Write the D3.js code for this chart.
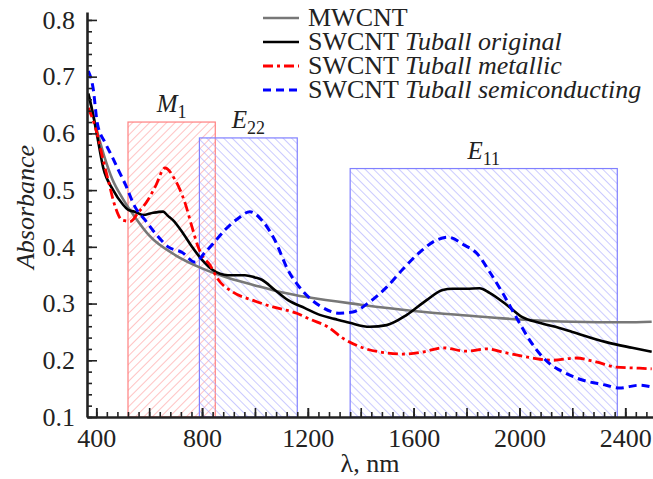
<!DOCTYPE html>
<html>
<head>
<meta charset="utf-8">
<script src="https://cdn.jsdelivr.net/npm/d3@7"></script>
<style>
  body { margin: 0; background: #fff; }
  svg text { font-family: "Liberation Serif", "Times New Roman", Tinos, "DejaVu Serif", serif; fill: #222; }
</style>
</head>
<body>
<div id="chart"></div>
<script>
// data
var mwLam = [370, 400, 430, 460, 500, 550, 600, 700, 800, 900, 1000, 1100, 1200, 1400, 1600, 1800, 2000, 2200, 2400, 2500];
var mwVal = [0.67, 0.61, 0.56, 0.52, 0.485, 0.45, 0.42, 0.385, 0.362, 0.345, 0.332, 0.32, 0.311, 0.298, 0.287, 0.279, 0.272, 0.268, 0.267, 0.268];

var origLam = [370, 385, 404, 426, 464, 500, 521, 545, 577, 615, 653, 670, 690, 728, 762, 800, 838, 898, 962, 1000, 1026, 1075, 1125, 1189, 1245, 1300, 1358, 1434, 1498, 1574, 1649, 1710, 1747, 1800, 1849, 1887, 1951, 2011, 2075, 2151, 2200, 2328, 2426, 2500];
var origVal = [0.67, 0.64, 0.594, 0.54, 0.50, 0.475, 0.465, 0.462, 0.456, 0.46, 0.462, 0.455, 0.447, 0.424, 0.40, 0.377, 0.36, 0.35, 0.35, 0.346, 0.342, 0.324, 0.306, 0.292, 0.28, 0.273, 0.266, 0.259, 0.262, 0.28, 0.306, 0.324, 0.326, 0.326, 0.327, 0.319, 0.298, 0.276, 0.266, 0.257, 0.25, 0.232, 0.222, 0.215];

var metLam = [370, 400, 426, 445, 472, 498, 530, 558, 596, 623, 660, 698, 736, 762, 785, 804, 830, 857, 917, 990, 1068, 1158, 1210, 1275, 1332, 1408, 1480, 1558, 1640, 1710, 1800, 1875, 1951, 2049, 2125, 2215, 2290, 2366, 2453, 2500];
var metVal = [0.645, 0.605, 0.553, 0.518, 0.47, 0.447, 0.445, 0.46, 0.483, 0.506, 0.539, 0.518, 0.477, 0.435, 0.40, 0.382, 0.368, 0.345, 0.32, 0.306, 0.294, 0.283, 0.272, 0.259, 0.239, 0.222, 0.214, 0.211, 0.215, 0.222, 0.216, 0.22, 0.213, 0.204, 0.2, 0.204, 0.197, 0.188, 0.186, 0.185];

var semLam = [370, 388, 404, 434, 460, 483, 510, 547, 585, 623, 672, 725, 774, 811, 850, 887, 936, 981, 1026, 1075, 1125, 1177, 1245, 1321, 1370, 1434, 1498, 1558, 1622, 1687, 1730, 1792, 1838, 1887, 1936, 1989, 2038, 2087, 2125, 2151, 2226, 2328, 2377, 2453, 2500];
var semVal = [0.71, 0.68, 0.618, 0.583, 0.559, 0.536, 0.51, 0.47, 0.447, 0.424, 0.40, 0.39, 0.373, 0.39, 0.41, 0.43, 0.45, 0.462, 0.447, 0.412, 0.359, 0.324, 0.296, 0.283, 0.285, 0.303, 0.329, 0.36, 0.39, 0.412, 0.417, 0.403, 0.389, 0.356, 0.319, 0.275, 0.236, 0.206, 0.19, 0.183, 0.167, 0.156, 0.151, 0.156, 0.153];

// highlighted bands
var bandNames = ["M", "E", "E"];
var bandSubs = ["1", "22", "11"];
var bandFrom = [520, 790, 1360];
var bandTo = [850, 1160, 2370];
var bandTop = [0.62, 0.592, 0.538];

var xTicks = [400, 800, 1200, 1600, 2000, 2400];
var yTicks = [0.1, 0.2, 0.3, 0.4, 0.5, 0.6, 0.7, 0.8];

var serif = "'Liberation Serif', 'Times New Roman', Tinos, 'DejaVu Serif', serif";

var svgWidth = 653;
var svgHeight = 479;

var svg = d3.select("#chart")
    .append("svg")
    .attr("width", svgWidth)
    .attr("height", svgHeight);

var xScale = d3.scaleLinear().domain([365, 2505]).range([87, 653]);
var yScale = d3.scaleLinear().domain([0.1, 0.814]).range([417, 12]);

// hatch patterns
var defs = svg.append("defs");
var pRed = defs.append("pattern")
    .attr("id", "hatchM")
    .attr("patternUnits", "userSpaceOnUse")
    .attr("width", 6).attr("height", 6)
    .attr("patternTransform", "rotate(45)");
pRed.append("line")
    .attr("x1", 0).attr("y1", 0).attr("x2", 0).attr("y2", 6)
    .style("stroke", "#ff9a9a")
    .style("stroke-width", 1.2);

var pBlue = defs.append("pattern")
    .attr("id", "hatchE")
    .attr("patternUnits", "userSpaceOnUse")
    .attr("width", 6).attr("height", 6)
    .attr("patternTransform", "rotate(-45)");
pBlue.append("line")
    .attr("x1", 0).attr("y1", 0).attr("x2", 0).attr("y2", 6)
    .style("stroke", "#a8a8ff")
    .style("stroke-width", 1.2);

var bandFill = ["url(#hatchM)", "url(#hatchE)", "url(#hatchE)"];
var bandStroke = ["#ff8080", "#8080ff", "#8080ff"];

var bands = bandFrom.map(function (d, i) {
    return { from: d, to: bandTo[i], top: bandTop[i], name: bandNames[i], sub: bandSubs[i] };
});

svg.selectAll("rect.band")
    .data(bands)
    .enter()
    .append("rect")
    .attr("class", "band")
    .attr("x", d => xScale(d.from))
    .attr("y", d => yScale(d.top))
    .attr("width", d => xScale(d.to) - xScale(d.from))
    .attr("height", d => yScale(0.1) - yScale(d.top))
    .style("fill", (d, i) => bandFill[i])
    .style("stroke", (d, i) => bandStroke[i])
    .style("stroke-width", 1.2);

var bandLabels = svg.selectAll("text.bandLabel")
    .data(bands)
    .enter()
    .append("text")
    .attr("class", "bandLabel")
    .attr("x", d => xScale((d.from + d.to) / 2))
    .attr("y", d => yScale(d.top) - 10)
    .attr("text-anchor", "middle")
    .style("font-size", "25px");
bandLabels.append("tspan").style("font-style", "italic").text(d => d.name);
bandLabels.append("tspan").attr("dy", 6).style("font-size", "18px").text(d => d.sub);

// curves
var line = d3.line()
    .x(d => xScale(d[0]))
    .y(d => yScale(d[1]))
    .curve(d3.curveMonotoneX);

function zip(a, b) { return a.map((v, i) => [v, b[i]]); }

var series = [
    { pts: zip(mwLam, mwVal), color: "#777777", dash: null, width: 2.6 },
    { pts: zip(origLam, origVal), color: "#000000", dash: null, width: 2.6 },
    { pts: zip(metLam, metVal), color: "#ff0000", dash: "10,4,3,4", width: 2.8 },
    { pts: zip(semLam, semVal), color: "#0000ff", dash: "8,5", width: 3 }
];

svg.selectAll("path.curve")
    .data(series)
    .enter()
    .append("path")
    .attr("class", "curve")
    .attr("d", d => line(d.pts))
    .attr("fill", "none")
    .attr("stroke", d => d.color)
    .attr("stroke-width", d => d.width)
    .attr("stroke-dasharray", d => d.dash);

// axes
var xMinor = svg.append("g")
    .attr("transform", "translate(0,417)")
    .call(d3.axisBottom(xScale).tickValues(d3.range(400, 2501, 40)).tickSize(-5).tickFormat(""));
var xMid = svg.append("g")
    .attr("transform", "translate(0,417)")
    .call(d3.axisBottom(xScale).tickValues(d3.range(400, 2501, 200)).tickSize(-9).tickFormat(""));
var xAxis = svg.append("g")
    .attr("transform", "translate(0,417)")
    .call(d3.axisBottom(xScale).tickValues(xTicks).tickSize(-9).tickSizeOuter(0).tickPadding(12).tickFormat(d3.format("d")));

var yMinor = svg.append("g")
    .attr("transform", "translate(87,0)")
    .call(d3.axisLeft(yScale).tickValues(d3.range(0.1, 0.81, 0.02)).tickSize(-5).tickFormat(""));
var yAxis = svg.append("g")
    .attr("transform", "translate(87,0)")
    .call(d3.axisLeft(yScale).tickValues(yTicks).tickSize(-10).tickSizeOuter(0).tickPadding(12).tickFormat(d3.format(".1f")));

svg.selectAll(".domain").attr("stroke", "#222").attr("stroke-width", 2.6);
svg.selectAll(".tick line").attr("stroke", "#222").attr("stroke-width", 1.6);
svg.selectAll("g").attr("font-family", serif);
svg.selectAll(".tick text")
    .style("font-family", serif)
    .style("font-size", "26px")
    .attr("fill", "#222");
xMinor.select(".domain").remove();
xMid.select(".domain").remove();
yMinor.select(".domain").remove();

// axis titles
svg.append("text")
    .attr("transform", "translate(34,207) rotate(-90)")
    .attr("text-anchor", "middle")
    .style("font-family", serif)
    .style("font-size", "26px")
    .style("font-style", "italic")
    .text("Absorbance");

svg.append("text")
    .attr("x", 370)
    .attr("y", 472)
    .attr("text-anchor", "middle")
    .style("font-family", serif)
    .style("font-size", "26px")
    .text("λ, nm");

// legend
var legendNames = ["MWCNT", "SWCNT", "SWCNT", "SWCNT"];
var legendItalic = ["", "Tuball original", "Tuball metallic", "Tuball semiconducting"];

var legend = svg.selectAll("g.legend")
    .data(series)
    .enter()
    .append("g")
    .attr("class", "legend")
    .attr("transform", (d, i) => `translate(263, ${18 + i * 24})`);

legend.append("line")
    .attr("x1", 0).attr("x2", 36)
    .attr("stroke", d => d.color)
    .attr("stroke-width", d => d.width)
    .attr("stroke-dasharray", d => d.dash);

var legendText = legend.append("text")
    .attr("x", 45)
    .attr("y", 8)
    .style("font-family", serif)
    .style("font-size", "26px");
legendText.append("tspan").text((d, i) => legendNames[i] + (legendItalic[i] ? " " : ""));
legendText.append("tspan").style("font-style", "italic").text((d, i) => legendItalic[i]);
</script>
</body>
</html>
